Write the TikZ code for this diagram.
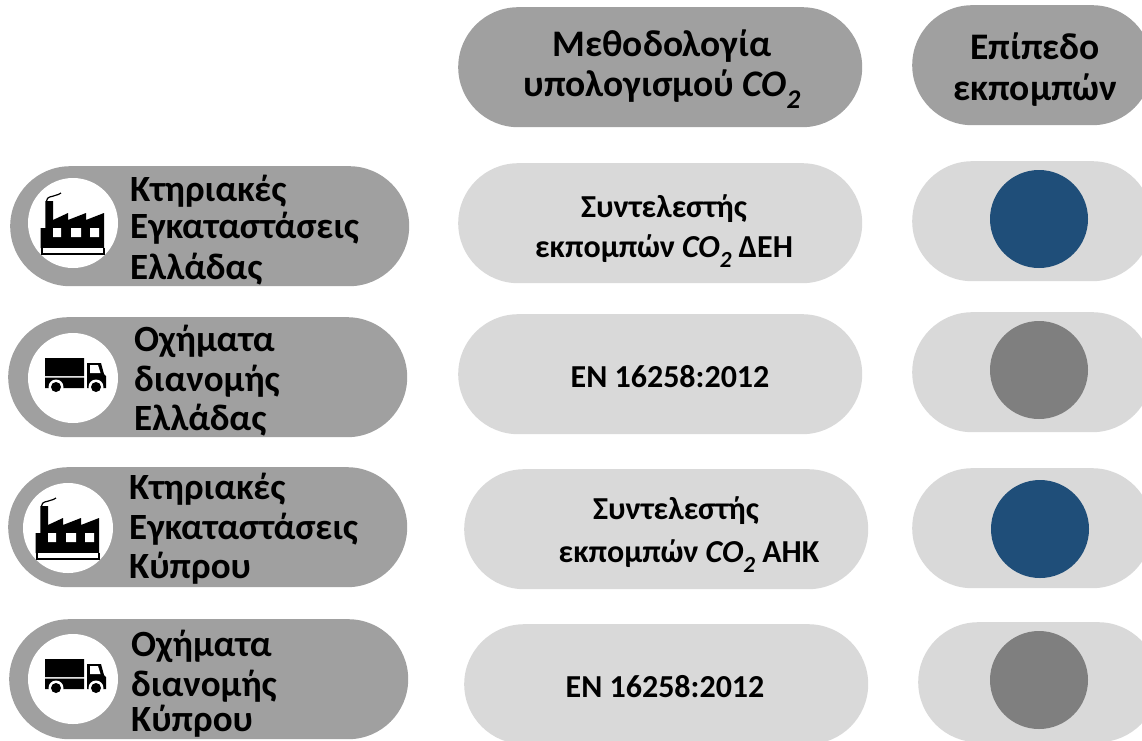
\documentclass[tikz,border=0pt]{standalone}
\usepackage{fontspec}
\setmainfont{Carlito}
\definecolor{pilldark}{HTML}{A0A0A0}
\definecolor{pilllight}{HTML}{D9D9D9}
\definecolor{dotblue}{HTML}{1F4E79}
\definecolor{dotgrey}{HTML}{7F7F7F}
\newcommand{\cotwo}{\textit{CO\raisebox{-0.33em}{\scalebox{0.72}{2}}}}
\tikzset{
  x=1pt,y=-1pt,
  pillbase/.style={rounded corners=60pt,minimum height=120pt,inner sep=0pt,anchor=north west},
  darkpill/.style={pillbase,fill=pilldark,minimum width=399pt},
  headpill/.style={pillbase,fill=pilldark,minimum width=404pt},
  midpill/.style={pillbase,fill=pilllight,minimum width=404pt},
  rightpill/.style={pillbase,fill=pilllight,minimum width=240pt},
  headright/.style={pillbase,fill=pilldark,minimum width=240pt},
  dot/.style={circle,minimum size=98pt,inner sep=0pt},
  iconbg/.style={circle,fill=white,minimum size=90pt,inner sep=0pt},
  headtext/.style={font=\fontsize{37.5}{40}\selectfont\bfseries,anchor=base,inner sep=0pt,text=black},
  midtext/.style={font=\fontsize{32}{40}\selectfont\bfseries,anchor=base,inner sep=0pt,text=black},
  lefttext/.style={font=\fontsize{37}{38}\selectfont\bfseries,anchor=base west,inner sep=0pt,text=black},
  factory/.pic={
    \fill[black] (-32.5,25) -- (-32.5,5) -- (-27.7,5) -- (-27.7,-22) -- (-20,-22) -- (-20,-3) -- (-5,-10) -- (-5,-3) -- (13,-10) -- (13,-3) -- (31,-10) -- (31,25) -- cycle;
    \fill[white] (-20,5) rectangle (-12,14) (-2,5) rectangle (8,14) (17,5) rectangle (26,14);
    \fill[black] (-32.5,25) rectangle (32,32);
    \fill[white] (-30,25) rectangle (29.5,29.5);
    \draw[black,line width=1.2pt] (-26.5,-22) .. controls (-26,-27) and (-21,-26) .. (-18,-27.5) .. controls (-16,-29) and (-13,-28) .. (-12,-30);
  },
  truck/.pic={
    \fill[black] (-28,-20) rectangle (11,-2) (-28,-0.5) rectangle (11,10);
    \fill[black] (14,-15) -- (28,-15) -- (31,-4) -- (33,-2) -- (33,10) -- (14,10) -- cycle;
    \fill[white] (17,-13) -- (25,-13) -- (27.5,-5) -- (17,-5) -- cycle;
    \fill[white] (-17,9) circle (7.5) (23,9) circle (7.5);
    \fill[black] (-17,9) circle (5) (23,9) circle (5);
  }
}
\begin{document}
\begin{tikzpicture}
\useasboundingbox (0,0) rectangle (1142,740);
\begin{scope}
\clip (0,0) rectangle (1142,740);
% headers
\node[headpill] (h1) at (458,7) {};
\node[headright] (h2) at (912,5) {};
% rows
\node[darkpill] (l1) at (10,166) {};
\node[darkpill] (l2) at (8,317) {};
\node[darkpill] (l3) at (8,467) {};
\node[darkpill] (l4) at (9,619) {};
\node[midpill] (m1) at (458,163) {};
\node[midpill] (m2) at (458,314) {};
\node[midpill] (m3) at (464,469) {};
\node[midpill] (m4) at (464,624) {};
\node[rightpill] (r1) at (912,161) {};
\node[rightpill] (r2) at (912,312) {};
\node[rightpill] (r3) at (912,468) {};
\node[rightpill] (r4) at (918,622) {};
% dots
\node[dot,fill=dotblue] (d1) at (1039,219) {};
\node[dot,fill=dotgrey] (d2) at (1039,370) {};
\node[dot,fill=dotblue] (d3) at (1040,529) {};
\node[dot,fill=dotgrey] (d4) at (1039,680) {};
% icons
\node[iconbg] (i1) at (73,223) {};
\node[iconbg] (i2) at (73,378) {};
\node[iconbg] (i3) at (68,528) {};
\node[iconbg] (i4) at (73,679) {};
\pic at (i1) {factory};
\pic at (i2) {truck};
\pic at (i3) {factory};
\pic at (i4) {truck};
\end{scope}
% header text
\node[headtext] (th1a) at (662,56.5) {Μεθοδολογία};
\node[headtext] (th1b) at (662,96) {υπολογισμού \cotwo};
\node[headtext] (th2a) at (1035,59) {Επίπεδο};
\node[headtext] (th2b) at (1035,100) {εκπομπών};
% left text
\node[lefttext] (a1) at (130,201) {Κτηριακές};
\node[lefttext] (a2) at (130,238) {Εγκαταστάσεις};
\node[lefttext] (a3) at (130,279) {Ελλάδας};
\node[lefttext] (b1) at (134,351) {Οχήματα};
\node[lefttext] (b2) at (134,391) {διανομής};
\node[lefttext] (b3) at (134,430) {Ελλάδας};
\node[lefttext] (c1) at (129,499) {Κτηριακές};
\node[lefttext] (c2) at (129,539) {Εγκαταστάσεις};
\node[lefttext] (c3) at (129,578) {Κύπρου};
\node[lefttext] (e1) at (131,656) {Οχήματα};
\node[lefttext] (e2) at (131,696) {διανομής};
\node[lefttext] (e3) at (131,731.5) {Κύπρου};
% middle text
\node[midtext] (t1a) at (664,217) {Συντελεστής};
\node[midtext] (t1b) at (664,257) {εκπομπών \cotwo{} ΔΕΗ};
\node[midtext] (t2) at (670,387) {ΕΝ 16258:2012};
\node[midtext] (t3a) at (676,519) {Συντελεστής};
\node[midtext] (t3b) at (689,562) {εκπομπών \cotwo{} ΑΗΚ};
\node[midtext] (t4) at (665,697) {ΕΝ 16258:2012};
\end{tikzpicture}
\end{document}
